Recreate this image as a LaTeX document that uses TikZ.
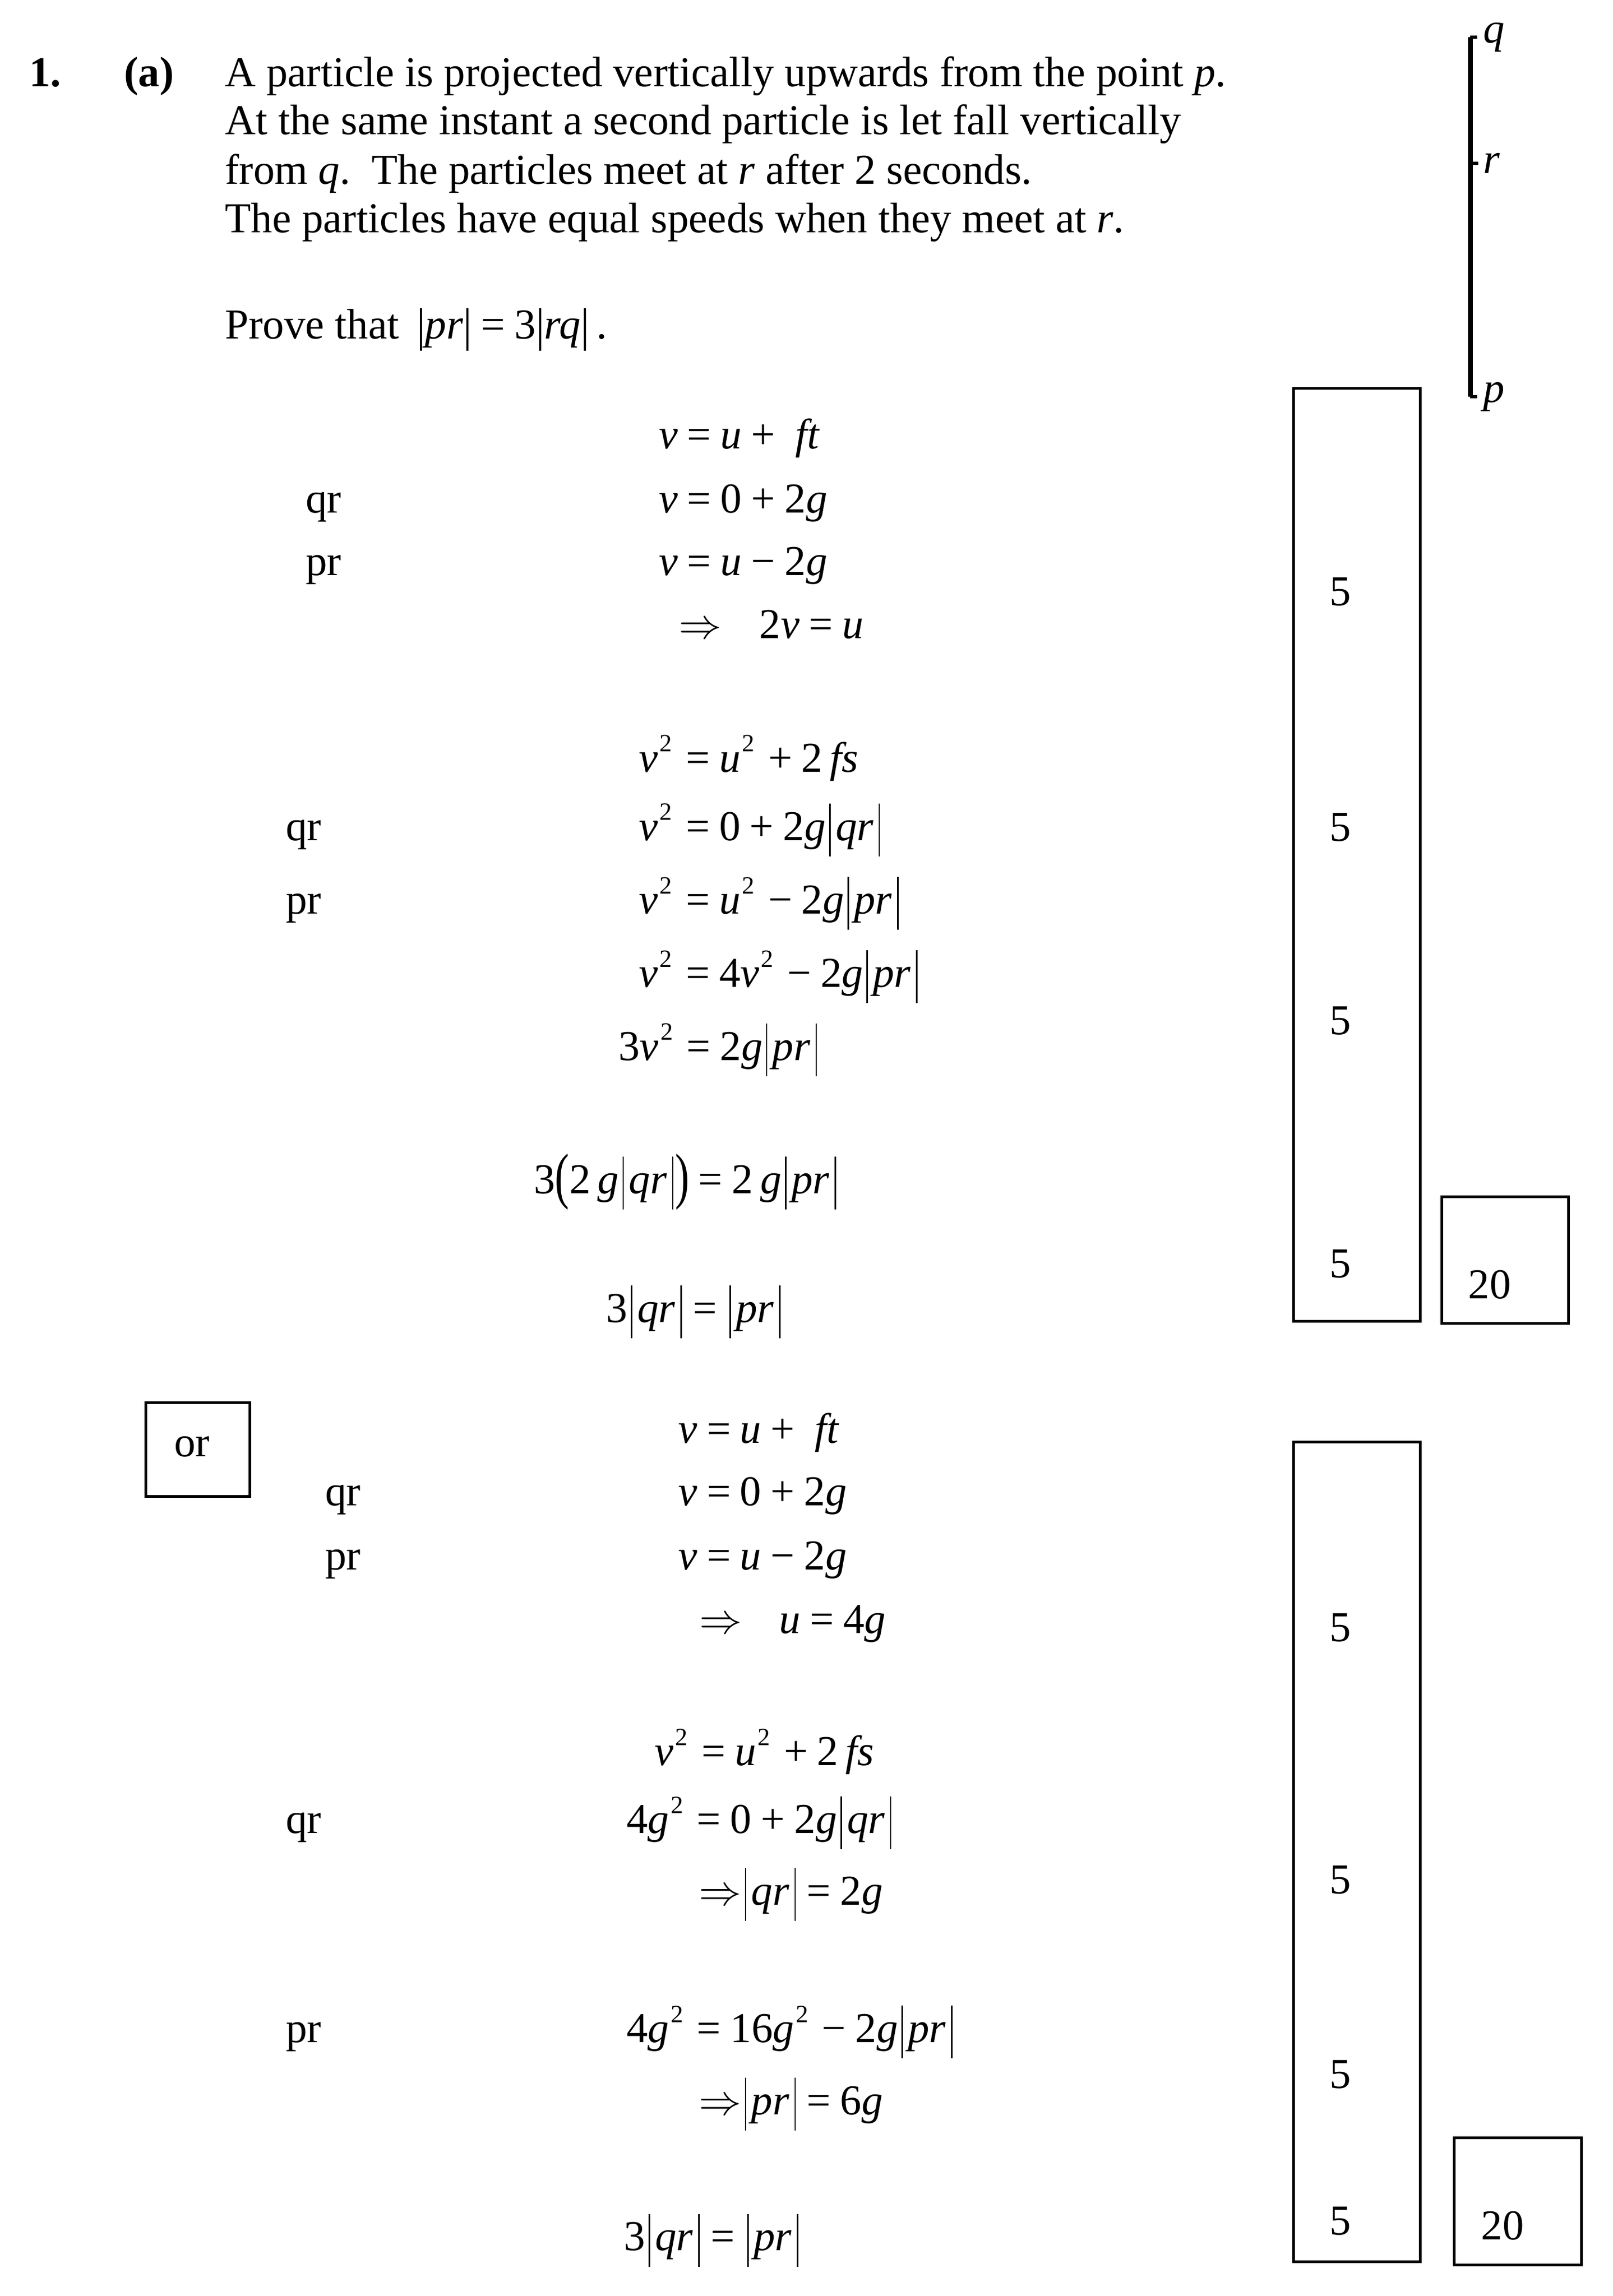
\documentclass[tikz,border=0pt]{standalone}
\usepackage{fontspec}
\setmainfont{Liberation Serif}
\usepackage{graphicx}
\usetikzlibrary{positioning}

\newcommand{\sqd}{\hspace{0.04em}\raisebox{0.47em}{\fontsize{7}{8}\selectfont 2}\hspace{0.32em}}
\newcommand{\vbr}{\vrule height 0.86em depth 0.38em width 0.03em}
\newcommand{\absv}[1]{\hspace{0.08em}\vbr\hspace{0.12em}\textit{#1}\hspace{0.12em}\vbr\hspace{0.04em}}
\newcommand{\op}[1]{\hspace{0.22em}#1\hspace{0.22em}}
\newcommand{\opr}[1]{#1\hspace{0.22em}}
\newcommand{\imp}{$\Rightarrow$}
\newcommand{\tallpar}[1]{\raisebox{-0.08em}{\scalebox{1}[1.45]{#1}}}
\newcommand{\pbar}{\raisebox{-0.06em}{\scalebox{1}[1.1]{|}}}

\begin{document}
\begin{tikzpicture}
        \tikzstyle{txt} = [anchor=base west, inner sep=0pt, font=\fontsize{12}{14}\selectfont]
        \tikzstyle{eqn} = [txt]
        \tikzstyle{score} = [anchor=base, inner sep=0pt, font=\fontsize{12}{14}\selectfont]
        \tikzstyle{score box} = [draw, line width=0.75pt]
        \tikzstyle{rod} = [line width=1.4pt]
        \tikzstyle{tick} = [line width=0.9pt]
        \tikzstyle{point} = [anchor=west, inner sep=0pt, font=\fontsize{12}{14}\selectfont\itshape]

        \path[fill=white] (0,0) rectangle (15.96,-22.73);
        \useasboundingbox (0,0) rectangle (15.96,-22.73);

        % question
        \node[txt](num) at(0.283, -0.859) {\textbf{1.}};
        \node[txt](part) at(1.222, -0.859) {\textbf{(a)}};
        \node[txt](q1) at(2.220, -0.859) {A particle is projected vertically upwards from the point \textit{p}.};
        \node[txt](q2) at(2.220, -1.334) {At the same instant a second particle is let fall vertically};
        \node[txt](q3) at(2.220, -1.820) {from \textit{q}.\ \ The particles meet at \textit{r} after 2 seconds.};
        \node[txt](q4) at(2.220, -2.300) {The particles have equal speeds when they meet at \textit{r}.};
        \node[txt](prove) at(2.220, -3.351) {Prove that \,\pbar\textit{pr}\pbar\op{=}3\pbar\textit{rq}\pbar\,.};

        % sketch q r p
        \coordinate (q) at(14.552, -0.368);
        \coordinate (r) at(14.552, -1.617);
        \coordinate (p) at(14.552, -3.927);
        \draw[rod] (q) -- (p);
        \draw[tick] (q) -- ++(0.07, 0);
        \draw[tick] (r) -- ++(0.08, 0);
        \draw[tick] (p) -- ++(0.07, 0);
        \node[point, right=0.12cm of q](lq) {q};
        \node[point, right=0.12cm of r](lr) {r};
        \node[point, right=0.12cm of p](lp) {p};

        % first method
        \node[eqn](a1) at(6.515, -4.440) {\textit{v}\op{=}\textit{u}\op{+}\ \textit{ft}};
        \node[eqn](a2l) at(3.020, -5.075) {qr};
        \node[eqn](a2) at(6.515, -5.075) {\textit{v}\op{=}0\op{+}2\textit{g}};
        \node[eqn](a3l) at(3.020, -5.694) {pr};
        \node[eqn](a3) at(6.515, -5.694) {\textit{v}\op{=}\textit{u}\op{−}2\textit{g}};
        \node[eqn](a4i) at(6.713, -6.318) {\imp};
        \node[eqn](a4) at(7.508, -6.318) {2\textit{v}\op{=}\textit{u}};

        \node[eqn](b1) at(6.318, -7.641) {\textit{v}\sqd\opr{=}\textit{u}\sqd\opr{+}2\,\textit{fs}};
        \node[eqn](b2l) at(2.823, -8.319) {qr};
        \node[eqn](b2) at(6.318, -8.319) {\textit{v}\sqd\opr{=}0\op{+}2\textit{g}\absv{qr}};
        \node[eqn](b3l) at(2.823, -9.045) {pr};
        \node[eqn](b3) at(6.318, -9.045) {\textit{v}\sqd\opr{=}\textit{u}\sqd\opr{−}2\textit{g}\absv{pr}};
        \node[eqn](b4) at(6.318, -9.771) {\textit{v}\sqd\opr{=}4\textit{v}\sqd\opr{−}2\textit{g}\absv{pr}};
        \node[eqn](b5) at(6.115, -10.496) {3\textit{v}\sqd\opr{=}2\textit{g}\absv{pr}};

        \node[eqn](c1) at(5.277, -11.814) {3\tallpar{(}2\,\textit{g}\absv{qr}\tallpar{)}\op{=}2\,\textit{g}\absv{pr}};
        \node[eqn](c2) at(5.993, -13.090) {3\absv{qr}\op{=}\absv{pr}};

        \draw[score box] (12.801, -3.842) rectangle (14.056, -13.079);
        \foreach \y [count=\i] in {-5.993, -8.324, -10.240, -12.647}
            \node[score](sa\i) at(13.266, \y) {5};
        \draw[score box] (14.269, -11.846) rectangle (15.523, -13.100);
        \node[score](ta) at(14.744, -12.855) {20};

        % second method
        \draw[score box] (1.441, -13.885) rectangle (2.471, -14.813);
        \node[txt](or) at(1.718, -14.418) {or};

        \node[eqn](d1) at(6.708, -14.285) {\textit{v}\op{=}\textit{u}\op{+}\ \textit{ft}};
        \node[eqn](d2l) at(3.212, -14.904) {qr};
        \node[eqn](d2) at(6.708, -14.904) {\textit{v}\op{=}0\op{+}2\textit{g}};
        \node[eqn](d3l) at(3.212, -15.539) {pr};
        \node[eqn](d3) at(6.708, -15.539) {\textit{v}\op{=}\textit{u}\op{−}2\textit{g}};
        \node[eqn](d4i) at(6.916, -16.169) {\imp};
        \node[eqn](d4) at(7.705, -16.169) {\textit{u}\op{=}4\textit{g}};

        \node[eqn](e1) at(6.473, -17.476) {\textit{v}\sqd\opr{=}\textit{u}\sqd\opr{+}2\,\textit{fs}};
        \node[eqn](e2l) at(2.823, -18.148) {qr};
        \node[eqn](e2) at(6.195, -18.148) {4\textit{g}\sqd\opr{=}0\op{+}2\textit{g}\absv{qr}};
        \node[eqn](e3) at(6.910, -18.858) {\imp\absv{qr}\op{=}2\textit{g}};
        \node[eqn](e4l) at(2.823, -20.219) {pr};
        \node[eqn](e4) at(6.195, -20.219) {4\textit{g}\sqd\opr{=}16\textit{g}\sqd\opr{−}2\textit{g}\absv{pr}};
        \node[eqn](e5) at(6.910, -20.934) {\imp\absv{pr}\op{=}6\textit{g}};
        \node[eqn](e6) at(6.169, -22.279) {3\absv{qr}\op{=}\absv{pr}};

        \draw[score box] (12.801, -14.274) rectangle (14.056, -22.391);
        \foreach \y [count=\i] in {-16.249, -18.746, -20.672, -22.124}
            \node[score](sb\i) at(13.266, \y) {5};
        \draw[score box] (14.392, -21.163) rectangle (15.651, -22.423);
        \node[score](tb) at(14.872, -22.172) {20};
    \end{tikzpicture}
\end{document}
